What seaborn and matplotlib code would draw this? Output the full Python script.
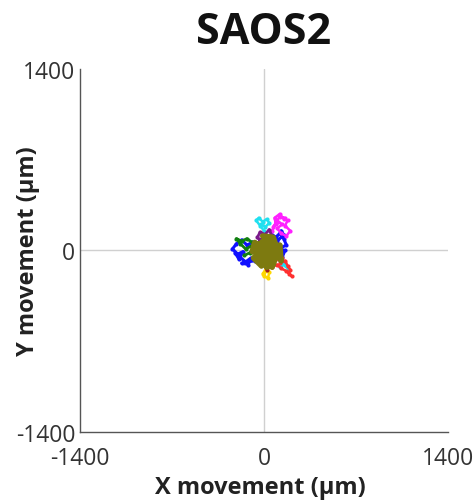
import matplotlib
matplotlib.use("Agg")
import matplotlib.pyplot as plt
import seaborn as sns
import pandas as pd

# ---- data (µm) ----
title = "SAOS2"
x_label = "X movement (µm)"
y_label = "Y movement (µm)"
tick_values = [-1400, 0, 1400]
minor_ticks = [-700, 700]

blue_x = [-40, -90, -130, -170, -210, -240, -200, -160, -190, -220, -140, -100, -120, -170, -70, -40, -80, -30, 20, 60, 90, 120, 150, 170, 130, 100, 140, 160, 110, 80, 40, 100, 150, 130]
blue_y = [20, 60, 40, 80, 50, 10, -30, -10, -70, -20, -90, -60, -110, -100, -80, -40, 0, 40, 70, 120, 100, 130, 90, 40, 20, -20, -50, 0, -10, 30, 10, 70, 120, 150]
magenta_x = [40, 60, 90, 80, 120, 150, 180, 160, 200, 170, 130, 100, 140, 110, 70, 120, 160]
magenta_y = [100, 150, 200, 250, 280, 240, 230, 190, 150, 110, 130, 170, 200, 220, 180, 260, 250]
cyan1_x = [0, -30, -60, -40, -10, 20, 40, 10, -20]
cyan1_y = [150, 190, 230, 250, 220, 240, 210, 180, 200]
cyan2_x = [100, 130, 120, 160, 190, 170, 140]
cyan2_y = [-60, -100, -130, -110, -150, -120, -90]
red_x = [80, 110, 140, 120, 160, 180, 200, 190, 210, 170, 130, 100, 60]
red_y = [-40, -70, -60, -100, -80, -120, -150, -180, -200, -160, -140, -110, -130]
yellow_x = [20, 10, 0, 30, 40, 20, -10]
yellow_y = [-120, -160, -200, -215, -170, -140, -180]
green_x = [-60, -100, -140, -180, -210, -170, -130, -90, -50, -110, -150]
green_y = [0, 30, 10, 50, 90, 70, 90, 60, 40, -20, -40]
purple_x = [-20, -50, -30, 10, -10, 30, 0, 60, 40, -60]
purple_y = [60, 100, 140, 120, 90, 70, 30, 110, 160, 40]
darkred_x = [40, 70, 20, -10, 50, 90, 30]
darkred_y = [-20, -80, -150, -90, 0, -30, -110]
olive_x = [0, 30, -20, 50, 80, 40, -40, -60, -10, 60, 100, 70, 20, -30, 10, 90, 50, -50, -80, -20, 40, 110, 80, 0, -40, 30, 60, 10, -70, -90, 120, 130, 70, -10]
olive_y = [0, -40, 30, 20, -60, -100, -80, 10, 70, 50, -20, -110, -130, -50, 40, 10, -80, -30, -60, -120, 80, -40, 30, -90, 50, -10, -130, -60, 60, -10, 40, -80, 100, 110]

tracks = [
    (blue_x, blue_y, "#1010ff", 2.2),
    (magenta_x, magenta_y, "#ff20ff", 1.8),
    (cyan1_x, cyan1_y, "#20e0f0", 1.8),
    (cyan2_x, cyan2_y, "#20e0f0", 1.8),
    (red_x, red_y, "#ff3030", 1.8),
    (yellow_x, yellow_y, "#ffd700", 1.8),
    (green_x, green_y, "#108010", 2.0),
    (purple_x, purple_y, "#7a1a8a", 2.0),
    (darkred_x, darkred_y, "#a02020", 2.0),
    (olive_x, olive_y, "#7d7a10", 4.0),
]

sns.set_theme(style="white")
plt.rcParams["font.family"] = ["Open Sans", "DejaVu Sans"]

fig = plt.figure(figsize=(4.74, 5.02), dpi=100)
ax = fig.add_axes([0.169, 0.138, 0.776, 0.723])

ax.axhline(0, color="#d0d0d0", lw=1.0, zorder=0)
ax.axvline(0, color="#d0d0d0", lw=1.0, zorder=0)

for tx, ty, col, lw in tracks:
    df = pd.DataFrame({"x": tx, "y": ty})
    sns.lineplot(data=df, x="x", y="y", sort=False, estimator=None,
                 color=col, lw=lw, ax=ax, marker="o", markersize=3,
                 markeredgewidth=0)

ax.set_xlim(-1400, 1400)
ax.set_ylim(-1400, 1400)
ax.set_xticks(tick_values)
ax.set_yticks(tick_values)
ax.set_xticks(minor_ticks, minor=True)
ax.set_yticks(minor_ticks, minor=True)
ax.set_xticklabels([str(v) for v in tick_values])
ax.set_yticklabels([str(v) for v in tick_values])

for s in ["top", "right"]:
    ax.spines[s].set_visible(False)
for s in ["left", "bottom"]:
    ax.spines[s].set_color("#555555")
    ax.spines[s].set_linewidth(1.0)

ax.tick_params(which="both", direction="inout", length=5, width=1,
               color="#555555", labelsize=16.5, labelcolor="#333333")
ax.tick_params(axis="x", which="major", pad=8)
ax.tick_params(axis="y", which="major", pad=1)
ax.tick_params(which="minor", length=4)

ax.set_xlabel(x_label, fontsize=17, fontweight="bold", color="#222222")
ax.set_ylabel(y_label, fontsize=17, fontweight="bold", color="#222222")
ax.xaxis.set_label_coords(0.49, -0.152)
ax.xaxis.label.set_va("center")
ax.yaxis.set_label_coords(-0.141, 0.5)
ax.yaxis.label.set_va("center")

fig.text(0.555, 1 - 33 / 502, title, fontsize=31, fontweight="bold",
         color="#111111", ha="center", va="center")

fig.savefig("out.png", dpi=100)
